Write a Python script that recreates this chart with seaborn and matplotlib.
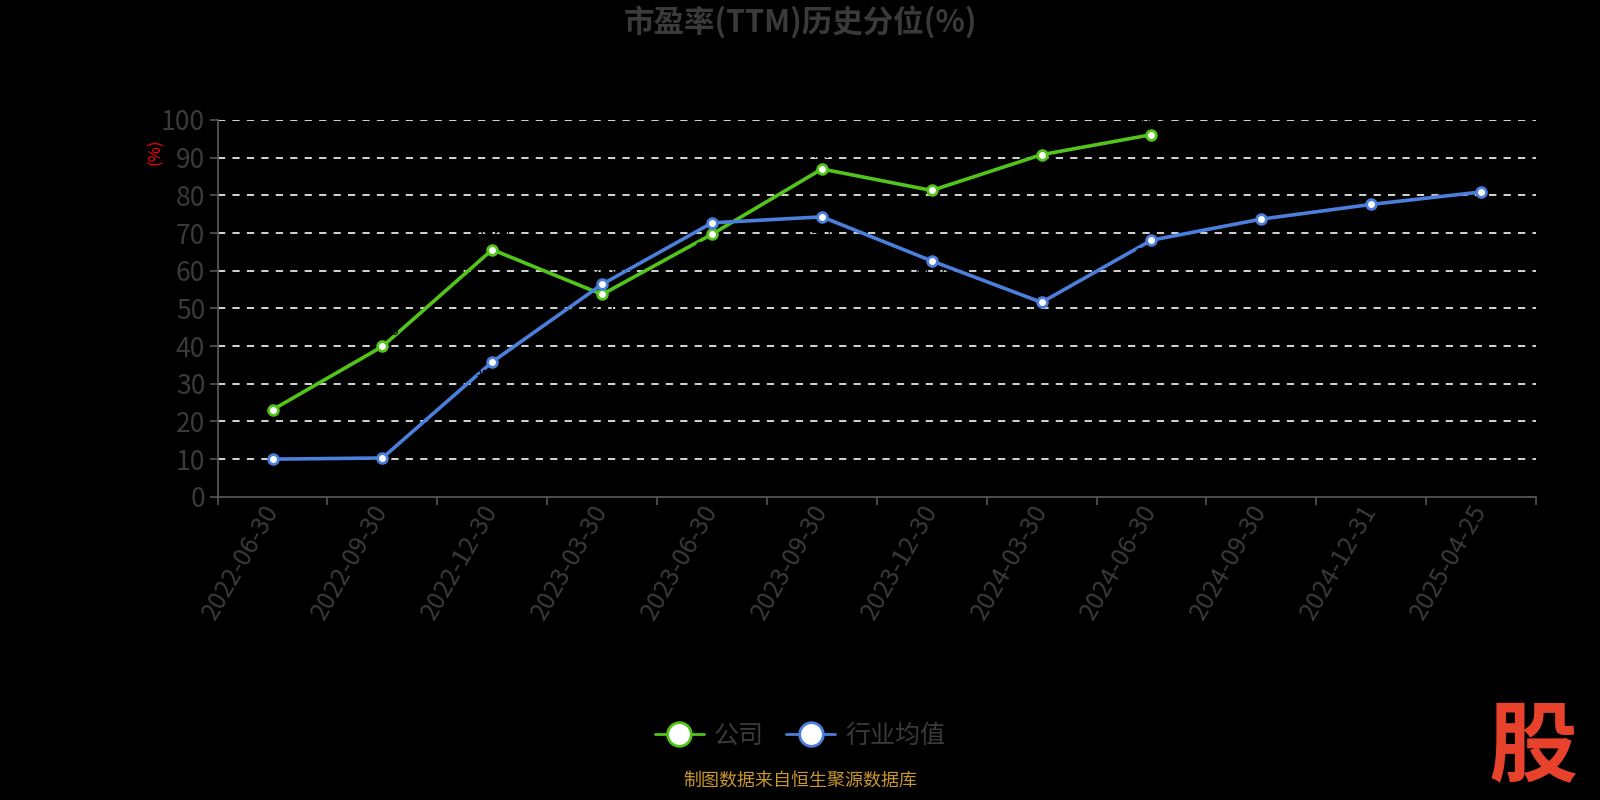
import numpy as np
import pandas as pd
import matplotlib
matplotlib.use("Agg")
import matplotlib.pyplot as plt
import seaborn as sns
from matplotlib.lines import Line2D

sns.set_theme(style="dark")
plt.rcParams['font.family'] = ['Noto Sans CJK SC', 'DejaVu Sans']
plt.rcParams['axes.unicode_minus'] = False

dates = ["2022-06-30", "2022-09-30", "2022-12-30", "2023-03-30", "2023-06-30",
         "2023-09-30", "2023-12-30", "2024-03-30", "2024-06-30", "2024-09-30",
         "2024-12-31", "2025-04-25"]
company = [23.1, 39.9, 65.6, 53.7, 69.7, 87.0, 81.3, 90.8, 96.1,
           np.nan, np.nan, np.nan]
industry = [10.0, 10.3, 35.8, 56.4, 72.7, 74.3, 62.6, 51.6, 68.1, 73.7, 77.6, 80.9]
series_names = ["公司", "行业均值"]
colors = ["#52c41a", "#4a7fdc"]
yticks = [0, 10, 20, 30, 40, 50, 60, 70, 80, 90, 100]

df = pd.DataFrame({
    "idx": list(range(len(dates))) * 2,
    "value": company + industry,
    "series": [series_names[0]] * len(dates) + [series_names[1]] * len(dates),
})

fig = plt.figure(figsize=(16, 8), dpi=100, facecolor="black")
ax = fig.add_axes([0.136, 0.379, 0.824, 0.471])
ax.set_facecolor("black")

sns.lineplot(data=df, x="idx", y="value", hue="series", palette=colors,
             marker="o", markersize=7, markerfacecolor="white",
             markeredgewidth=2, linewidth=2.6, ax=ax, legend=False,
             zorder=3)
for line, c in zip(ax.get_lines(), colors):
    line.set_markeredgecolor(c)

# (nearly invisible) black value labels: higher series above, lower below
for i in range(len(dates)):
    c, d = company[i], industry[i]
    for v, other in ((c, d), (d, c)):
        if np.isnan(v):
            continue
        above = np.isnan(other) or v >= other
        ax.text(i, v + (2.2 if above else -2.2), f"{v:.2f}", color="black",
                fontsize=10, ha="center", va="bottom" if above else "top",
                zorder=4)

ax.set_xlim(-0.5, len(dates) - 0.5)
ax.set_ylim(0, 100)
ax.set_yticks(yticks)
ax.set_yticklabels([str(t) for t in yticks], color="#3a3a3a", fontsize=19)
ax.set_xticks(range(len(dates)))
ax.set_xticklabels(dates, rotation=60, ha="right", va="center",
                   rotation_mode="anchor", color="#3a3a3a", fontsize=18)
ax.set_xticks(np.arange(-0.5, len(dates), 1.0), minor=True)
ax.tick_params(axis="x", which="major", length=0, pad=7)
ax.tick_params(axis="x", which="minor", length=6, color="#555555", width=1.2,
               bottom=True)
ax.tick_params(axis="y", length=6, color="#555555", width=1.2, left=True, pad=3)

ax.grid(False)
for t in yticks[1:]:
    ax.axhline(t, color="#e6e6e6", linestyle=(0, (4, 4)), linewidth=1.3,
               zorder=1)

for s in ["top", "right"]:
    ax.spines[s].set_visible(False)
for s in ["left", "bottom"]:
    ax.spines[s].set_color("#555555")
    ax.spines[s].set_linewidth(1.3)

ax.set_xlabel("")
ax.set_ylabel("")
fig.text(0.097, 0.81, "(%)", color="red", fontsize=12, rotation=90,
         ha="center", va="center")

fig.text(0.5, 0.972, "市盈率(TTM)历史分位(%)", color="#3a3a3a", fontsize=22,
         fontweight="bold", ha="center", va="center")

handles = [Line2D([0], [0], color=c, linewidth=2, marker="o", markersize=17,
                  markerfacecolor="white", markeredgecolor=c,
                  markeredgewidth=2) for c in colors]
fig.legend(handles, series_names, loc="center", bbox_to_anchor=(0.5, 0.08),
           ncol=2, frameon=False, fontsize=18, labelcolor="#3a3a3a",
           handlelength=1.95, columnspacing=0.9, handletextpad=0.4)

fig.text(0.5, 0.013, "制图数据来自恒生聚源数据库", color="#c8962a",
         fontsize=13, ha="center", va="bottom")
fig.text(0.958, 0.065, "股", color="#e8412c", fontsize=64, fontweight="bold",
         style="italic", ha="center", va="center")

fig.savefig("out.png", dpi=100, facecolor="black")
